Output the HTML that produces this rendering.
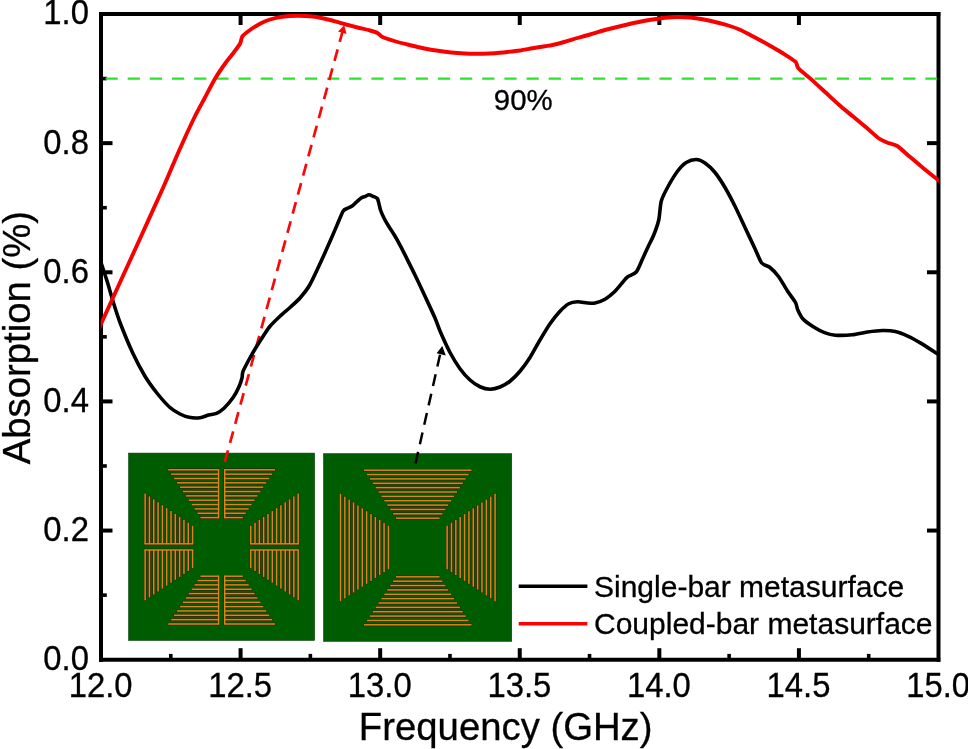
<!DOCTYPE html>
<html><head><meta charset="utf-8"><title>Absorption vs Frequency</title>
<style>html,body{margin:0;padding:0;background:#fff;}body{width:968px;height:749px;overflow:hidden;position:relative;}</style>
</head><body>
<svg width="968" height="749" viewBox="0 0 968 749" style="position:absolute;left:0;top:0">
<rect width="968" height="749" fill="#fff"/>
<g stroke="#000" stroke-width="4" fill="none" stroke-linecap="butt">
<line x1="101.00" y1="12.00" x2="101.00" y2="661.70"/>
<line x1="99.00" y1="659.70" x2="940.30" y2="659.70"/>
<line x1="99.00" y1="14.00" x2="940.30" y2="14.00"/>
<line x1="938.50" y1="12.00" x2="938.50" y2="661.70"/>
<line x1="101.00" y1="530.56" x2="112.50" y2="530.56"/>
<line x1="938.50" y1="530.56" x2="927.00" y2="530.56"/>
<line x1="101.00" y1="401.42" x2="112.50" y2="401.42"/>
<line x1="938.50" y1="401.42" x2="927.00" y2="401.42"/>
<line x1="101.00" y1="272.28" x2="112.50" y2="272.28"/>
<line x1="938.50" y1="272.28" x2="927.00" y2="272.28"/>
<line x1="101.00" y1="143.14" x2="112.50" y2="143.14"/>
<line x1="938.50" y1="143.14" x2="927.00" y2="143.14"/>
<line x1="101.00" y1="595.13" x2="106.80" y2="595.13" stroke-width="3.6"/>
<line x1="101.00" y1="465.99" x2="106.80" y2="465.99" stroke-width="3.6"/>
<line x1="101.00" y1="336.85" x2="106.80" y2="336.85" stroke-width="3.6"/>
<line x1="101.00" y1="207.71" x2="106.80" y2="207.71" stroke-width="3.6"/>
<line x1="101.00" y1="78.57" x2="106.80" y2="78.57" stroke-width="3.6"/>
<line x1="240.58" y1="659.70" x2="240.58" y2="648.20"/>
<line x1="240.58" y1="14.00" x2="240.58" y2="25.00"/>
<line x1="380.17" y1="659.70" x2="380.17" y2="648.20"/>
<line x1="380.17" y1="14.00" x2="380.17" y2="25.00"/>
<line x1="519.75" y1="659.70" x2="519.75" y2="648.20"/>
<line x1="519.75" y1="14.00" x2="519.75" y2="25.00"/>
<line x1="659.33" y1="659.70" x2="659.33" y2="648.20"/>
<line x1="659.33" y1="14.00" x2="659.33" y2="25.00"/>
<line x1="798.92" y1="659.70" x2="798.92" y2="648.20"/>
<line x1="798.92" y1="14.00" x2="798.92" y2="25.00"/>
<line x1="170.79" y1="659.70" x2="170.79" y2="653.90" stroke-width="3.6"/>
<line x1="310.38" y1="659.70" x2="310.38" y2="653.90" stroke-width="3.6"/>
<line x1="449.96" y1="659.70" x2="449.96" y2="653.90" stroke-width="3.6"/>
<line x1="589.54" y1="659.70" x2="589.54" y2="653.90" stroke-width="3.6"/>
<line x1="729.12" y1="659.70" x2="729.12" y2="653.90" stroke-width="3.6"/>
<line x1="868.71" y1="659.70" x2="868.71" y2="653.90" stroke-width="3.6"/>
</g>
<line x1="105.5" y1="78.6" x2="937" y2="78.6" stroke="#2ae32a" stroke-width="2.2" stroke-dasharray="12.2 9.96"/>
<rect x="128.60" y="453.10" width="186.00" height="187.30" fill="#005c00" stroke="#003c00" stroke-width="0.6"/><g fill="#2e2400" stroke="#2e2400" stroke-width="1.15" stroke-linejoin="round"><rect x="168.20" y="469.05" width="50.37" height="1.50"/><rect x="224.73" y="469.05" width="50.37" height="1.50"/><rect x="171.13" y="473.39" width="47.44" height="1.50"/><rect x="224.73" y="473.39" width="47.44" height="1.50"/><rect x="174.06" y="477.74" width="44.51" height="1.50"/><rect x="224.73" y="477.74" width="44.51" height="1.50"/><rect x="176.99" y="482.08" width="41.58" height="1.50"/><rect x="224.73" y="482.08" width="41.58" height="1.50"/><rect x="179.92" y="486.43" width="38.65" height="1.50"/><rect x="224.73" y="486.43" width="38.65" height="1.50"/><rect x="182.85" y="490.77" width="35.72" height="1.50"/><rect x="224.73" y="490.77" width="35.72" height="1.50"/><rect x="185.78" y="495.12" width="32.79" height="1.50"/><rect x="224.73" y="495.12" width="32.79" height="1.50"/><rect x="188.71" y="499.46" width="29.86" height="1.50"/><rect x="224.73" y="499.46" width="29.86" height="1.50"/><rect x="191.64" y="503.81" width="26.93" height="1.50"/><rect x="224.73" y="503.81" width="26.93" height="1.50"/><rect x="194.57" y="508.15" width="24.00" height="1.50"/><rect x="224.73" y="508.15" width="24.00" height="1.50"/><rect x="197.50" y="512.50" width="21.07" height="1.50"/><rect x="224.73" y="512.50" width="21.07" height="1.50"/><rect x="200.43" y="516.85" width="18.14" height="1.50"/><rect x="224.73" y="516.85" width="18.14" height="1.50"/><rect x="217.82" y="469.05" width="1.50" height="49.30"/><rect x="223.98" y="469.05" width="1.50" height="49.30"/><rect x="144.37" y="493.45" width="1.50" height="50.37"/><rect x="144.37" y="549.98" width="1.50" height="50.37"/><rect x="148.69" y="496.38" width="1.50" height="47.44"/><rect x="148.69" y="549.98" width="1.50" height="47.44"/><rect x="153.00" y="499.31" width="1.50" height="44.51"/><rect x="153.00" y="549.98" width="1.50" height="44.51"/><rect x="157.31" y="502.24" width="1.50" height="41.58"/><rect x="157.31" y="549.98" width="1.50" height="41.58"/><rect x="161.63" y="505.17" width="1.50" height="38.65"/><rect x="161.63" y="549.98" width="1.50" height="38.65"/><rect x="165.94" y="508.10" width="1.50" height="35.72"/><rect x="165.94" y="549.98" width="1.50" height="35.72"/><rect x="170.26" y="511.03" width="1.50" height="32.79"/><rect x="170.26" y="549.98" width="1.50" height="32.79"/><rect x="174.57" y="513.96" width="1.50" height="29.86"/><rect x="174.57" y="549.98" width="1.50" height="29.86"/><rect x="178.89" y="516.89" width="1.50" height="26.93"/><rect x="178.89" y="549.98" width="1.50" height="26.93"/><rect x="183.21" y="519.82" width="1.50" height="24.00"/><rect x="183.21" y="549.98" width="1.50" height="24.00"/><rect x="187.52" y="522.75" width="1.50" height="21.07"/><rect x="187.52" y="549.98" width="1.50" height="21.07"/><rect x="191.84" y="525.68" width="1.50" height="18.14"/><rect x="191.84" y="549.98" width="1.50" height="18.14"/><rect x="144.37" y="543.07" width="48.97" height="1.50"/><rect x="144.37" y="549.23" width="48.97" height="1.50"/><rect x="168.20" y="623.25" width="50.37" height="1.50"/><rect x="224.73" y="623.25" width="50.37" height="1.50"/><rect x="171.13" y="618.90" width="47.44" height="1.50"/><rect x="224.73" y="618.90" width="47.44" height="1.50"/><rect x="174.06" y="614.56" width="44.51" height="1.50"/><rect x="224.73" y="614.56" width="44.51" height="1.50"/><rect x="176.99" y="610.21" width="41.58" height="1.50"/><rect x="224.73" y="610.21" width="41.58" height="1.50"/><rect x="179.92" y="605.87" width="38.65" height="1.50"/><rect x="224.73" y="605.87" width="38.65" height="1.50"/><rect x="182.85" y="601.52" width="35.72" height="1.50"/><rect x="224.73" y="601.52" width="35.72" height="1.50"/><rect x="185.78" y="597.18" width="32.79" height="1.50"/><rect x="224.73" y="597.18" width="32.79" height="1.50"/><rect x="188.71" y="592.83" width="29.86" height="1.50"/><rect x="224.73" y="592.83" width="29.86" height="1.50"/><rect x="191.64" y="588.49" width="26.93" height="1.50"/><rect x="224.73" y="588.49" width="26.93" height="1.50"/><rect x="194.57" y="584.14" width="24.00" height="1.50"/><rect x="224.73" y="584.14" width="24.00" height="1.50"/><rect x="197.50" y="579.80" width="21.07" height="1.50"/><rect x="224.73" y="579.80" width="21.07" height="1.50"/><rect x="200.43" y="575.45" width="18.14" height="1.50"/><rect x="224.73" y="575.45" width="18.14" height="1.50"/><rect x="217.82" y="575.45" width="1.50" height="49.30"/><rect x="223.98" y="575.45" width="1.50" height="49.30"/><rect x="297.43" y="493.45" width="1.50" height="50.37"/><rect x="297.43" y="549.98" width="1.50" height="50.37"/><rect x="293.12" y="496.38" width="1.50" height="47.44"/><rect x="293.12" y="549.98" width="1.50" height="47.44"/><rect x="288.80" y="499.31" width="1.50" height="44.51"/><rect x="288.80" y="549.98" width="1.50" height="44.51"/><rect x="284.49" y="502.24" width="1.50" height="41.58"/><rect x="284.49" y="549.98" width="1.50" height="41.58"/><rect x="280.17" y="505.17" width="1.50" height="38.65"/><rect x="280.17" y="549.98" width="1.50" height="38.65"/><rect x="275.86" y="508.10" width="1.50" height="35.72"/><rect x="275.86" y="549.98" width="1.50" height="35.72"/><rect x="271.54" y="511.03" width="1.50" height="32.79"/><rect x="271.54" y="549.98" width="1.50" height="32.79"/><rect x="267.23" y="513.96" width="1.50" height="29.86"/><rect x="267.23" y="549.98" width="1.50" height="29.86"/><rect x="262.91" y="516.89" width="1.50" height="26.93"/><rect x="262.91" y="549.98" width="1.50" height="26.93"/><rect x="258.60" y="519.82" width="1.50" height="24.00"/><rect x="258.60" y="549.98" width="1.50" height="24.00"/><rect x="254.28" y="522.75" width="1.50" height="21.07"/><rect x="254.28" y="549.98" width="1.50" height="21.07"/><rect x="249.97" y="525.68" width="1.50" height="18.14"/><rect x="249.97" y="549.98" width="1.50" height="18.14"/><rect x="249.97" y="543.07" width="48.97" height="1.50"/><rect x="249.97" y="549.23" width="48.97" height="1.50"/></g><g fill="#e5811a"><rect x="168.20" y="469.05" width="50.37" height="1.50"/><rect x="224.73" y="469.05" width="50.37" height="1.50"/><rect x="171.13" y="473.39" width="47.44" height="1.50"/><rect x="224.73" y="473.39" width="47.44" height="1.50"/><rect x="174.06" y="477.74" width="44.51" height="1.50"/><rect x="224.73" y="477.74" width="44.51" height="1.50"/><rect x="176.99" y="482.08" width="41.58" height="1.50"/><rect x="224.73" y="482.08" width="41.58" height="1.50"/><rect x="179.92" y="486.43" width="38.65" height="1.50"/><rect x="224.73" y="486.43" width="38.65" height="1.50"/><rect x="182.85" y="490.77" width="35.72" height="1.50"/><rect x="224.73" y="490.77" width="35.72" height="1.50"/><rect x="185.78" y="495.12" width="32.79" height="1.50"/><rect x="224.73" y="495.12" width="32.79" height="1.50"/><rect x="188.71" y="499.46" width="29.86" height="1.50"/><rect x="224.73" y="499.46" width="29.86" height="1.50"/><rect x="191.64" y="503.81" width="26.93" height="1.50"/><rect x="224.73" y="503.81" width="26.93" height="1.50"/><rect x="194.57" y="508.15" width="24.00" height="1.50"/><rect x="224.73" y="508.15" width="24.00" height="1.50"/><rect x="197.50" y="512.50" width="21.07" height="1.50"/><rect x="224.73" y="512.50" width="21.07" height="1.50"/><rect x="200.43" y="516.85" width="18.14" height="1.50"/><rect x="224.73" y="516.85" width="18.14" height="1.50"/><rect x="217.82" y="469.05" width="1.50" height="49.30"/><rect x="223.98" y="469.05" width="1.50" height="49.30"/><rect x="144.37" y="493.45" width="1.50" height="50.37"/><rect x="144.37" y="549.98" width="1.50" height="50.37"/><rect x="148.69" y="496.38" width="1.50" height="47.44"/><rect x="148.69" y="549.98" width="1.50" height="47.44"/><rect x="153.00" y="499.31" width="1.50" height="44.51"/><rect x="153.00" y="549.98" width="1.50" height="44.51"/><rect x="157.31" y="502.24" width="1.50" height="41.58"/><rect x="157.31" y="549.98" width="1.50" height="41.58"/><rect x="161.63" y="505.17" width="1.50" height="38.65"/><rect x="161.63" y="549.98" width="1.50" height="38.65"/><rect x="165.94" y="508.10" width="1.50" height="35.72"/><rect x="165.94" y="549.98" width="1.50" height="35.72"/><rect x="170.26" y="511.03" width="1.50" height="32.79"/><rect x="170.26" y="549.98" width="1.50" height="32.79"/><rect x="174.57" y="513.96" width="1.50" height="29.86"/><rect x="174.57" y="549.98" width="1.50" height="29.86"/><rect x="178.89" y="516.89" width="1.50" height="26.93"/><rect x="178.89" y="549.98" width="1.50" height="26.93"/><rect x="183.21" y="519.82" width="1.50" height="24.00"/><rect x="183.21" y="549.98" width="1.50" height="24.00"/><rect x="187.52" y="522.75" width="1.50" height="21.07"/><rect x="187.52" y="549.98" width="1.50" height="21.07"/><rect x="191.84" y="525.68" width="1.50" height="18.14"/><rect x="191.84" y="549.98" width="1.50" height="18.14"/><rect x="144.37" y="543.07" width="48.97" height="1.50"/><rect x="144.37" y="549.23" width="48.97" height="1.50"/><rect x="168.20" y="623.25" width="50.37" height="1.50"/><rect x="224.73" y="623.25" width="50.37" height="1.50"/><rect x="171.13" y="618.90" width="47.44" height="1.50"/><rect x="224.73" y="618.90" width="47.44" height="1.50"/><rect x="174.06" y="614.56" width="44.51" height="1.50"/><rect x="224.73" y="614.56" width="44.51" height="1.50"/><rect x="176.99" y="610.21" width="41.58" height="1.50"/><rect x="224.73" y="610.21" width="41.58" height="1.50"/><rect x="179.92" y="605.87" width="38.65" height="1.50"/><rect x="224.73" y="605.87" width="38.65" height="1.50"/><rect x="182.85" y="601.52" width="35.72" height="1.50"/><rect x="224.73" y="601.52" width="35.72" height="1.50"/><rect x="185.78" y="597.18" width="32.79" height="1.50"/><rect x="224.73" y="597.18" width="32.79" height="1.50"/><rect x="188.71" y="592.83" width="29.86" height="1.50"/><rect x="224.73" y="592.83" width="29.86" height="1.50"/><rect x="191.64" y="588.49" width="26.93" height="1.50"/><rect x="224.73" y="588.49" width="26.93" height="1.50"/><rect x="194.57" y="584.14" width="24.00" height="1.50"/><rect x="224.73" y="584.14" width="24.00" height="1.50"/><rect x="197.50" y="579.80" width="21.07" height="1.50"/><rect x="224.73" y="579.80" width="21.07" height="1.50"/><rect x="200.43" y="575.45" width="18.14" height="1.50"/><rect x="224.73" y="575.45" width="18.14" height="1.50"/><rect x="217.82" y="575.45" width="1.50" height="49.30"/><rect x="223.98" y="575.45" width="1.50" height="49.30"/><rect x="297.43" y="493.45" width="1.50" height="50.37"/><rect x="297.43" y="549.98" width="1.50" height="50.37"/><rect x="293.12" y="496.38" width="1.50" height="47.44"/><rect x="293.12" y="549.98" width="1.50" height="47.44"/><rect x="288.80" y="499.31" width="1.50" height="44.51"/><rect x="288.80" y="549.98" width="1.50" height="44.51"/><rect x="284.49" y="502.24" width="1.50" height="41.58"/><rect x="284.49" y="549.98" width="1.50" height="41.58"/><rect x="280.17" y="505.17" width="1.50" height="38.65"/><rect x="280.17" y="549.98" width="1.50" height="38.65"/><rect x="275.86" y="508.10" width="1.50" height="35.72"/><rect x="275.86" y="549.98" width="1.50" height="35.72"/><rect x="271.54" y="511.03" width="1.50" height="32.79"/><rect x="271.54" y="549.98" width="1.50" height="32.79"/><rect x="267.23" y="513.96" width="1.50" height="29.86"/><rect x="267.23" y="549.98" width="1.50" height="29.86"/><rect x="262.91" y="516.89" width="1.50" height="26.93"/><rect x="262.91" y="549.98" width="1.50" height="26.93"/><rect x="258.60" y="519.82" width="1.50" height="24.00"/><rect x="258.60" y="549.98" width="1.50" height="24.00"/><rect x="254.28" y="522.75" width="1.50" height="21.07"/><rect x="254.28" y="549.98" width="1.50" height="21.07"/><rect x="249.97" y="525.68" width="1.50" height="18.14"/><rect x="249.97" y="549.98" width="1.50" height="18.14"/><rect x="249.97" y="543.07" width="48.97" height="1.50"/><rect x="249.97" y="549.23" width="48.97" height="1.50"/></g>
<rect x="323.60" y="453.70" width="188.10" height="187.60" fill="#005c00" stroke="#003c00" stroke-width="0.6"/><g fill="#2e2400" stroke="#2e2400" stroke-width="1.15" stroke-linejoin="round"><rect x="364.03" y="469.45" width="107.50" height="1.50"/><rect x="366.93" y="473.81" width="101.69" height="1.50"/><rect x="369.84" y="478.17" width="95.88" height="1.50"/><rect x="372.75" y="482.53" width="90.07" height="1.50"/><rect x="375.65" y="486.89" width="84.26" height="1.50"/><rect x="378.55" y="491.25" width="78.45" height="1.50"/><rect x="381.46" y="495.61" width="72.64" height="1.50"/><rect x="384.36" y="499.97" width="66.83" height="1.50"/><rect x="387.27" y="504.33" width="61.02" height="1.50"/><rect x="390.17" y="508.69" width="55.21" height="1.50"/><rect x="393.08" y="513.05" width="49.40" height="1.50"/><rect x="395.98" y="517.41" width="43.59" height="1.50"/><rect x="339.73" y="493.75" width="1.50" height="107.50"/><rect x="344.09" y="496.65" width="1.50" height="101.69"/><rect x="348.45" y="499.56" width="1.50" height="95.88"/><rect x="352.81" y="502.47" width="1.50" height="90.07"/><rect x="357.17" y="505.37" width="1.50" height="84.26"/><rect x="361.53" y="508.27" width="1.50" height="78.45"/><rect x="365.89" y="511.18" width="1.50" height="72.64"/><rect x="370.25" y="514.09" width="1.50" height="66.83"/><rect x="374.61" y="516.99" width="1.50" height="61.02"/><rect x="378.97" y="519.89" width="1.50" height="55.21"/><rect x="383.33" y="522.80" width="1.50" height="49.40"/><rect x="387.69" y="525.71" width="1.50" height="43.59"/><rect x="364.03" y="624.05" width="107.50" height="1.50"/><rect x="366.93" y="619.69" width="101.69" height="1.50"/><rect x="369.84" y="615.33" width="95.88" height="1.50"/><rect x="372.75" y="610.97" width="90.07" height="1.50"/><rect x="375.65" y="606.61" width="84.26" height="1.50"/><rect x="378.55" y="602.25" width="78.45" height="1.50"/><rect x="381.46" y="597.89" width="72.64" height="1.50"/><rect x="384.36" y="593.53" width="66.83" height="1.50"/><rect x="387.27" y="589.17" width="61.02" height="1.50"/><rect x="390.17" y="584.81" width="55.21" height="1.50"/><rect x="393.08" y="580.45" width="49.40" height="1.50"/><rect x="395.98" y="576.09" width="43.59" height="1.50"/><rect x="494.33" y="493.75" width="1.50" height="107.50"/><rect x="489.97" y="496.65" width="1.50" height="101.69"/><rect x="485.61" y="499.56" width="1.50" height="95.88"/><rect x="481.25" y="502.47" width="1.50" height="90.07"/><rect x="476.89" y="505.37" width="1.50" height="84.26"/><rect x="472.53" y="508.27" width="1.50" height="78.45"/><rect x="468.17" y="511.18" width="1.50" height="72.64"/><rect x="463.81" y="514.09" width="1.50" height="66.83"/><rect x="459.45" y="516.99" width="1.50" height="61.02"/><rect x="455.09" y="519.89" width="1.50" height="55.21"/><rect x="450.73" y="522.80" width="1.50" height="49.40"/><rect x="446.37" y="525.71" width="1.50" height="43.59"/></g><g fill="#e5811a"><rect x="364.03" y="469.45" width="107.50" height="1.50"/><rect x="366.93" y="473.81" width="101.69" height="1.50"/><rect x="369.84" y="478.17" width="95.88" height="1.50"/><rect x="372.75" y="482.53" width="90.07" height="1.50"/><rect x="375.65" y="486.89" width="84.26" height="1.50"/><rect x="378.55" y="491.25" width="78.45" height="1.50"/><rect x="381.46" y="495.61" width="72.64" height="1.50"/><rect x="384.36" y="499.97" width="66.83" height="1.50"/><rect x="387.27" y="504.33" width="61.02" height="1.50"/><rect x="390.17" y="508.69" width="55.21" height="1.50"/><rect x="393.08" y="513.05" width="49.40" height="1.50"/><rect x="395.98" y="517.41" width="43.59" height="1.50"/><rect x="339.73" y="493.75" width="1.50" height="107.50"/><rect x="344.09" y="496.65" width="1.50" height="101.69"/><rect x="348.45" y="499.56" width="1.50" height="95.88"/><rect x="352.81" y="502.47" width="1.50" height="90.07"/><rect x="357.17" y="505.37" width="1.50" height="84.26"/><rect x="361.53" y="508.27" width="1.50" height="78.45"/><rect x="365.89" y="511.18" width="1.50" height="72.64"/><rect x="370.25" y="514.09" width="1.50" height="66.83"/><rect x="374.61" y="516.99" width="1.50" height="61.02"/><rect x="378.97" y="519.89" width="1.50" height="55.21"/><rect x="383.33" y="522.80" width="1.50" height="49.40"/><rect x="387.69" y="525.71" width="1.50" height="43.59"/><rect x="364.03" y="624.05" width="107.50" height="1.50"/><rect x="366.93" y="619.69" width="101.69" height="1.50"/><rect x="369.84" y="615.33" width="95.88" height="1.50"/><rect x="372.75" y="610.97" width="90.07" height="1.50"/><rect x="375.65" y="606.61" width="84.26" height="1.50"/><rect x="378.55" y="602.25" width="78.45" height="1.50"/><rect x="381.46" y="597.89" width="72.64" height="1.50"/><rect x="384.36" y="593.53" width="66.83" height="1.50"/><rect x="387.27" y="589.17" width="61.02" height="1.50"/><rect x="390.17" y="584.81" width="55.21" height="1.50"/><rect x="393.08" y="580.45" width="49.40" height="1.50"/><rect x="395.98" y="576.09" width="43.59" height="1.50"/><rect x="494.33" y="493.75" width="1.50" height="107.50"/><rect x="489.97" y="496.65" width="1.50" height="101.69"/><rect x="485.61" y="499.56" width="1.50" height="95.88"/><rect x="481.25" y="502.47" width="1.50" height="90.07"/><rect x="476.89" y="505.37" width="1.50" height="84.26"/><rect x="472.53" y="508.27" width="1.50" height="78.45"/><rect x="468.17" y="511.18" width="1.50" height="72.64"/><rect x="463.81" y="514.09" width="1.50" height="66.83"/><rect x="459.45" y="516.99" width="1.50" height="61.02"/><rect x="455.09" y="519.89" width="1.50" height="55.21"/><rect x="450.73" y="522.80" width="1.50" height="49.40"/><rect x="446.37" y="525.71" width="1.50" height="43.59"/></g>
<line x1="224.8" y1="462" x2="342.4" y2="32" stroke="#f80808" stroke-width="2.7" stroke-dasharray="12 7.8"/>
<polygon points="344.2,25.3 346.6,34 338.0,31.6" fill="#f80808"/>
<line x1="415.5" y1="463.6" x2="440.2" y2="354" stroke="#000" stroke-width="2.5" stroke-dasharray="12 7.9"/>
<polygon points="442.3,346 445.8,355.5 436.6,353.2" fill="#000"/>
<clipPath id="pc"><rect x="100.70" y="13.00" width="838.10" height="647.70"/></clipPath>
<path clip-path="url(#pc)" d="M99.50,258.00 C99.69,258.57 99.99,259.40 101.00,262.50 C102.01,265.60 105.89,277.27 107.50,282.50 C109.11,287.73 112.17,298.68 113.75,303.75 C115.33,308.82 117.62,316.32 120.00,322.50 C122.38,328.68 129.33,345.69 132.50,352.50 C135.67,359.31 141.83,371.02 145.00,376.25 C148.17,381.48 154.33,389.79 157.50,393.75 C160.67,397.71 167.15,404.94 170.00,407.50 C172.85,410.06 177.59,412.76 180.00,414.00 C182.41,415.24 186.47,416.83 189.00,417.30 C191.53,417.77 197.50,417.99 200.00,417.70 C202.50,417.41 206.61,415.56 208.70,415.00 C210.79,414.44 214.56,414.16 216.50,413.30 C218.44,412.44 221.87,410.23 224.00,408.20 C226.13,406.17 231.40,400.01 233.30,397.30 C235.20,394.59 237.90,389.24 239.00,386.80 C240.10,384.36 241.49,379.95 242.00,378.00 C242.51,376.05 242.04,373.87 243.00,371.40 C243.96,368.93 247.95,361.53 249.60,358.50 C251.25,355.47 254.26,350.35 256.00,347.50 C257.74,344.65 261.53,338.69 263.30,336.00 C265.07,333.31 267.88,328.75 270.00,326.25 C272.12,323.75 277.47,318.62 280.00,316.25 C282.53,313.88 287.47,309.81 290.00,307.50 C292.53,305.19 297.47,300.91 300.00,298.00 C302.53,295.09 307.20,289.43 310.00,284.50 C312.80,279.57 319.48,264.76 322.10,259.10 C324.72,253.44 328.80,244.13 330.70,239.80 C332.60,235.47 335.54,228.51 337.10,224.90 C338.66,221.29 341.78,213.36 343.00,211.30 C344.22,209.24 345.55,209.27 346.70,208.60 C347.85,207.93 350.88,206.81 352.10,206.00 C353.32,205.19 355.16,203.21 356.30,202.20 C357.44,201.19 359.95,198.75 361.10,198.00 C362.25,197.25 364.41,196.71 365.40,196.30 C366.39,195.89 367.95,194.80 368.90,194.80 C369.85,194.80 371.84,195.83 372.90,196.30 C373.96,196.77 376.54,197.59 377.30,198.50 C378.06,199.41 378.49,202.04 378.90,203.50 C379.31,204.96 379.83,208.10 380.50,210.00 C381.17,211.90 383.19,216.47 384.20,218.50 C385.21,220.53 387.14,223.78 388.50,226.00 C389.86,228.22 393.29,233.30 394.90,236.00 C396.51,238.70 399.65,244.37 401.20,247.30 C402.75,250.23 405.35,255.59 407.10,259.10 C408.85,262.61 412.73,270.29 415.00,275.00 C417.27,279.71 422.47,290.80 425.00,296.25 C427.53,301.70 433.10,313.60 435.00,318.00 C436.90,322.40 438.10,326.63 440.00,331.00 C441.90,335.37 447.47,347.72 450.00,352.50 C452.53,357.28 457.47,365.27 460.00,368.75 C462.53,372.23 467.47,377.72 470.00,380.00 C472.53,382.28 477.47,385.58 480.00,386.75 C482.53,387.92 487.47,389.22 490.00,389.25 C492.53,389.28 497.47,388.01 500.00,387.00 C502.53,385.99 507.47,383.25 510.00,381.25 C512.53,379.25 517.47,374.26 520.00,371.25 C522.53,368.24 527.47,361.46 530.00,357.50 C532.53,353.54 537.47,344.27 540.00,340.00 C542.53,335.73 547.47,327.39 550.00,323.75 C552.53,320.11 557.62,313.78 560.00,311.25 C562.38,308.72 566.53,304.95 568.75,303.75 C570.97,302.55 575.12,301.85 577.50,301.75 C579.88,301.65 585.28,302.84 587.50,303.00 C589.72,303.16 592.78,303.48 595.00,303.00 C597.22,302.52 602.47,300.74 605.00,299.25 C607.53,297.76 612.78,293.37 615.00,291.25 C617.22,289.13 620.92,284.31 622.50,282.50 C624.08,280.69 625.76,278.33 627.50,277.00 C629.24,275.67 634.35,274.28 636.25,272.00 C638.15,269.72 641.01,262.17 642.50,259.00 C643.99,255.83 646.58,250.04 648.00,247.00 C649.42,243.96 652.39,238.42 653.75,235.00 C655.11,231.58 657.80,224.28 658.75,220.00 C659.70,215.72 660.14,205.37 661.25,201.25 C662.36,197.13 665.44,191.30 667.50,187.50 C669.56,183.70 675.12,174.42 677.50,171.25 C679.88,168.08 683.88,163.99 686.25,162.50 C688.62,161.01 693.88,159.44 696.25,159.50 C698.62,159.56 702.62,161.35 705.00,163.00 C707.38,164.65 712.47,169.40 715.00,172.50 C717.53,175.60 722.47,183.22 725.00,187.50 C727.53,191.78 732.47,201.18 735.00,206.25 C737.53,211.32 742.47,222.12 745.00,227.50 C747.53,232.88 752.88,244.25 755.00,248.75 C757.12,253.25 759.85,260.62 761.75,263.00 C763.65,265.38 767.88,265.79 770.00,267.50 C772.12,269.21 776.28,273.52 778.50,276.50 C780.72,279.48 785.35,287.71 787.50,291.00 C789.65,294.29 794.20,300.09 795.50,302.50 C796.80,304.91 796.85,307.91 797.80,310.00 C798.75,312.09 800.99,316.85 803.00,319.00 C805.01,321.15 810.98,325.28 813.70,327.00 C816.42,328.72 821.78,331.56 824.50,332.60 C827.22,333.64 831.67,334.92 835.20,335.20 C838.73,335.48 848.32,335.21 852.40,334.80 C856.48,334.39 863.59,332.54 867.40,332.00 C871.21,331.46 878.95,330.56 882.50,330.50 C886.05,330.44 892.13,330.77 895.40,331.50 C898.67,332.23 905.03,334.79 908.30,336.30 C911.57,337.81 917.37,341.08 921.20,343.40 C925.03,345.72 936.12,353.05 938.50,354.60 C940.88,356.15 939.81,355.47 940.00,355.60" fill="none" stroke="#000" stroke-width="3.6" stroke-linejoin="round" stroke-linecap="butt"/>
<path clip-path="url(#pc)" d="M99.50,327.20 C99.69,326.78 95.95,334.95 101.00,323.90 C106.05,312.85 131.45,257.44 139.40,240.00 C147.35,222.56 159.24,196.38 163.75,186.25 C168.26,176.12 172.31,166.18 175.00,160.00 C177.69,153.82 182.47,143.04 185.00,137.50 C187.53,131.96 192.47,121.32 195.00,116.25 C197.53,111.18 202.47,102.25 205.00,97.50 C207.53,92.75 212.47,83.03 215.00,78.75 C217.53,74.47 222.62,67.08 225.00,63.75 C227.38,60.42 231.85,55.03 233.75,52.50 C235.65,49.97 238.89,45.81 240.00,43.75 C241.11,41.69 241.23,37.99 242.50,36.25 C243.77,34.51 247.78,31.58 250.00,30.00 C252.22,28.42 257.47,25.08 260.00,23.75 C262.53,22.42 267.15,20.39 270.00,19.50 C272.85,18.61 279.02,17.23 282.50,16.75 C285.98,16.27 293.70,15.78 297.50,15.75 C301.30,15.72 309.02,16.12 312.50,16.50 C315.98,16.88 321.99,18.09 325.00,18.75 C328.01,19.41 333.72,21.00 336.25,21.70 C338.78,22.40 342.31,23.52 345.00,24.25 C347.69,24.98 354.33,26.71 357.50,27.50 C360.67,28.29 367.47,29.80 370.00,30.50 C372.53,31.20 375.92,32.18 377.50,33.00 C379.08,33.82 380.28,35.95 382.50,37.00 C384.72,38.05 391.83,40.30 395.00,41.25 C398.17,42.20 404.33,43.71 407.50,44.50 C410.67,45.29 416.83,46.80 420.00,47.50 C423.17,48.20 429.33,49.46 432.50,50.00 C435.67,50.54 441.83,51.37 445.00,51.75 C448.17,52.13 454.33,52.75 457.50,53.00 C460.67,53.25 466.83,53.66 470.00,53.75 C473.17,53.84 479.33,53.81 482.50,53.75 C485.67,53.69 491.83,53.47 495.00,53.25 C498.17,53.03 504.33,52.35 507.50,52.00 C510.67,51.65 516.83,50.98 520.00,50.50 C523.17,50.02 529.33,48.79 532.50,48.25 C535.67,47.71 542.47,46.66 545.00,46.25 C547.53,45.84 549.97,45.57 552.50,45.00 C555.03,44.43 561.83,42.64 565.00,41.75 C568.17,40.86 574.33,38.92 577.50,38.00 C580.67,37.08 586.83,35.42 590.00,34.50 C593.17,33.58 599.33,31.64 602.50,30.75 C605.67,29.86 611.83,28.29 615.00,27.50 C618.17,26.71 624.33,25.23 627.50,24.50 C630.67,23.77 636.83,22.38 640.00,21.75 C643.17,21.12 649.33,20.01 652.50,19.50 C655.67,18.99 661.83,18.07 665.00,17.75 C668.17,17.43 674.33,17.03 677.50,17.00 C680.67,16.97 686.83,17.21 690.00,17.50 C693.17,17.79 699.33,18.68 702.50,19.25 C705.67,19.82 711.83,21.24 715.00,22.00 C718.17,22.76 724.33,24.27 727.50,25.25 C730.67,26.23 736.63,28.21 740.00,29.70 C743.37,31.19 750.52,35.10 754.10,37.00 C757.68,38.90 764.72,42.67 768.30,44.70 C771.88,46.73 778.97,50.85 782.40,53.00 C785.83,55.15 793.37,59.76 795.40,61.70 C797.43,63.64 796.46,66.12 798.40,68.30 C800.34,70.48 807.36,75.92 810.70,78.90 C814.04,81.88 821.23,88.52 824.80,91.80 C828.37,95.08 835.32,101.66 838.90,104.80 C842.48,107.94 849.52,113.62 853.10,116.60 C856.68,119.58 863.92,125.53 867.20,128.30 C870.48,131.07 876.31,136.64 879.00,138.50 C881.69,140.36 886.08,142.05 888.40,143.00 C890.72,143.95 894.61,144.28 897.30,146.00 C899.99,147.72 906.26,153.76 909.60,156.60 C912.94,159.44 920.04,165.40 923.70,168.40 C927.36,171.40 936.44,178.64 938.50,180.30 C940.56,181.96 939.81,181.35 940.00,181.50" fill="none" stroke="#f80000" stroke-width="3.9" stroke-linejoin="round" stroke-linecap="butt"/>
<line x1="518.7" y1="586.2" x2="587.4" y2="586.2" stroke="#000" stroke-width="3.5"/>
<line x1="518.7" y1="623.8" x2="587.4" y2="623.8" stroke="#ff0000" stroke-width="3.5"/>
<g font-family="Liberation Sans, Arial, Helvetica, sans-serif" fill="#000" stroke="#000" stroke-width="0.3">
<text transform="translate(89.0,670.10) scale(0.98,1.034)" font-size="33.5" text-anchor="end">0.0</text>
<text transform="translate(89.0,540.96) scale(0.98,1.034)" font-size="33.5" text-anchor="end">0.2</text>
<text transform="translate(89.0,411.82) scale(0.98,1.034)" font-size="33.5" text-anchor="end">0.4</text>
<text transform="translate(89.0,282.68) scale(0.98,1.034)" font-size="33.5" text-anchor="end">0.6</text>
<text transform="translate(89.0,153.54) scale(0.98,1.034)" font-size="33.5" text-anchor="end">0.8</text>
<text transform="translate(89.0,24.40) scale(0.98,1.034)" font-size="33.5" text-anchor="end">1.0</text>
<text transform="translate(100.60,697.3) scale(0.98,1.034)" font-size="33.5" text-anchor="middle">12.0</text>
<text transform="translate(240.18,697.3) scale(0.98,1.034)" font-size="33.5" text-anchor="middle">12.5</text>
<text transform="translate(379.77,697.3) scale(0.98,1.034)" font-size="33.5" text-anchor="middle">13.0</text>
<text transform="translate(519.35,697.3) scale(0.98,1.034)" font-size="33.5" text-anchor="middle">13.5</text>
<text transform="translate(658.93,697.3) scale(0.98,1.034)" font-size="33.5" text-anchor="middle">14.0</text>
<text transform="translate(798.52,697.3) scale(0.98,1.034)" font-size="33.5" text-anchor="middle">14.5</text>
<text transform="translate(938.10,697.3) scale(0.98,1.034)" font-size="33.5" text-anchor="middle">15.0</text>
<text x="493.8" y="110.2" font-size="29.4">90%</text>
<text x="594" y="596.7" font-size="30.0">Single-bar metasurface</text>
<text x="594" y="633.6" font-size="30.0">Coupled-bar metasurface</text>
<text x="505.7" y="740" font-size="38.3" text-anchor="middle">Frequency (GHz)</text>
<text transform="translate(29.6,337.6) rotate(-90)" font-size="38.3" text-anchor="middle">Absorption (%)</text>
</g>
</svg>
</body></html>
